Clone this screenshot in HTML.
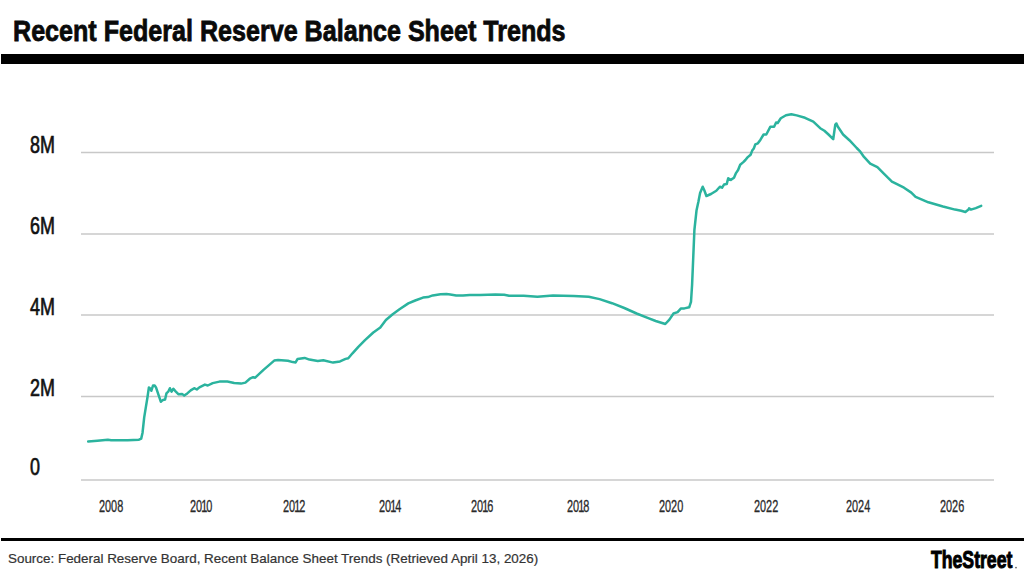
<!DOCTYPE html>
<html><head><meta charset="utf-8">
<style>
html,body{margin:0;padding:0;background:#fff;}
body{width:1024px;height:576px;position:relative;overflow:hidden;font-family:"Liberation Sans",sans-serif;}
.t{position:absolute;white-space:nowrap;transform-origin:0 0;line-height:1;}
#title{left:13px;top:14.5px;font-size:30.4px;font-weight:bold;color:#0a0a0a;transform:scaleX(0.826);-webkit-text-stroke:0.8px #0a0a0a;}
.yl{font-size:24.4px;color:#111;transform:scaleX(0.735);left:29.5px;-webkit-text-stroke:0.7px #111;}
.xl{font-size:15.8px;color:#2a2a2a;transform:scaleX(0.69);top:499.2px;-webkit-text-stroke:0.3px #2a2a2a;}
#src{left:8px;top:552px;font-size:13px;color:#333;transform:scaleX(1.032);-webkit-text-stroke:0.2px #333;}
#logo{left:930.5px;top:547.6px;font-size:24px;font-weight:bold;color:#000;transform:scaleX(0.735);-webkit-text-stroke:1.0px #000;}
svg{position:absolute;left:0;top:0;}
.n1{margin-left:-1.2px;margin-right:-1.8px;}
</style></head><body>
<svg width="1024" height="576" viewBox="0 0 1024 576">
<rect x="1" y="54" width="1023" height="10" fill="#000"/>
<rect x="1" y="538" width="1023" height="3" fill="#000"/>
<g stroke="#c8c8c8" stroke-width="1.5">
<line x1="81" y1="152.5" x2="994" y2="152.5"/>
<line x1="81" y1="233.9" x2="994" y2="233.9"/>
<line x1="81" y1="314.9" x2="994" y2="314.9"/>
<line x1="81" y1="396.4" x2="994" y2="396.4"/>
<line x1="81" y1="480" x2="994" y2="480"/>
</g>
<path d="M88.2 441.6 L97.4 440.8 L107.8 439.7 L111.2 440.3 L127.7 440.3 L139.0 439.7 L141.2 438.6 L142.5 433.0 L144.2 417.4 L145.9 406.9 L147.4 397.8 L148.9 387.4 L150.4 388.7 L151.3 390.8 L153.0 385.6 L154.7 385.6 L156.0 387.4 L158.6 395.2 L160.8 401.7 L163.0 399.9 L165.1 399.5 L166.4 393.4 L168.2 391.7 L169.9 388.2 L171.6 391.7 L173.4 388.7 L175.1 390.8 L178.6 394.3 L182.1 393.9 L184.2 395.6 L187.3 393.4 L190.7 390.4 L194.2 388.2 L196.8 389.5 L199.4 387.4 L204.9 384.6 L207.8 385.5 L212.7 383.1 L219.5 381.6 L227.3 381.6 L234.2 382.9 L241.0 383.6 L245.4 382.6 L249.8 378.7 L253.2 377.2 L255.2 377.7 L263.5 369.9 L274.2 360.6 L278.1 360.1 L287.9 360.8 L292.8 362.1 L295.6 362.4 L297.6 358.9 L304.6 357.9 L309.4 359.6 L317.8 361.0 L323.3 360.3 L333.1 362.6 L340.0 361.4 L345.6 358.9 L348.3 358.2 L352.5 353.3 L358.1 347.1 L365.0 340.1 L373.3 332.5 L380.3 327.6 L385.9 320.0 L392.7 314.2 L399.5 309.3 L408.3 303.4 L415.2 300.5 L423.0 297.6 L427.9 297.1 L432.7 295.4 L440.5 294.2 L446.4 294.0 L450.3 294.5 L456.2 295.4 L463.0 295.4 L469.8 294.9 L480.0 294.9 L495.4 294.6 L504.2 294.8 L509.1 295.8 L523.7 295.8 L537.4 296.8 L553.0 295.4 L573.7 296.1 L588.7 296.8 L599.6 299.1 L612.0 303.2 L624.3 308.0 L636.6 313.5 L648.9 318.3 L655.7 321.0 L665.3 324.0 L669.4 319.6 L673.5 313.5 L677.6 312.1 L681.0 308.4 L684.4 308.4 L689.2 307.3 L691.0 301.9 L692.1 284.6 L694.4 230.0 L696.5 210.6 L698.5 201.3 L700.1 192.9 L702.7 186.7 L704.3 190.3 L706.4 196.0 L711.0 194.0 L716.3 190.8 L719.9 186.7 L722.0 187.7 L724.0 184.6 L726.7 184.1 L728.2 178.3 L730.8 179.9 L734.0 177.8 L736.0 173.1 L738.1 170.0 L740.2 164.7 L743.3 162.1 L745.4 160.0 L747.5 157.4 L750.6 154.8 L752.2 150.6 L753.8 148.5 L755.3 144.4 L757.9 143.3 L760.5 139.7 L763.6 134.5 L766.3 134.5 L770.4 126.7 L774.1 126.7 L776.1 122.5 L777.7 123.0 L780.8 118.3 L786.0 115.2 L791.3 114.2 L796.7 115.4 L805.0 117.8 L813.3 121.7 L820.2 128.2 L824.4 130.8 L828.5 134.5 L833.2 139.2 L835.3 124.6 L836.4 123.5 L837.9 126.7 L843.1 134.5 L849.4 140.2 L856.7 148.0 L859.8 151.1 L864.0 156.9 L870.2 163.6 L877.4 167.2 L884.6 174.3 L891.9 181.6 L895.5 183.4 L904.0 187.7 L911.3 192.6 L915.6 196.8 L928.4 202.3 L943.0 206.5 L955.1 209.6 L961.2 210.8 L965.4 212.0 L968.5 209.6 L969.1 208.4 L970.9 209.6 L975.8 208.1 L981.2 205.9" fill="none" stroke="#2bb39e" stroke-width="2.5" stroke-linejoin="round" stroke-linecap="round"/>
<circle cx="1016" cy="567.6" r="0.9" fill="#666"/>
</svg>
<div class="t" id="title">Recent Federal Reserve Balance Sheet Trends</div>
<div class="t yl" style="top:132.6px">8M</div>
<div class="t yl" style="top:213.6px">6M</div>
<div class="t yl" style="top:294.6px">4M</div>
<div class="t yl" style="top:375.6px">2M</div>
<div class="t yl" style="top:454.5px">0</div>
<div class="t xl" style="left:99.3px">2008</div>
<div class="t xl" style="left:189.7px">20<span class="n1">1</span>0</div>
<div class="t xl" style="left:282.7px">20<span class="n1">1</span>2</div>
<div class="t xl" style="left:378.7px">20<span class="n1">1</span>4</div>
<div class="t xl" style="left:470.5px">20<span class="n1">1</span>6</div>
<div class="t xl" style="left:566.5px">20<span class="n1">1</span>8</div>
<div class="t xl" style="left:658.5px">2020</div>
<div class="t xl" style="left:753.7px">2022</div>
<div class="t xl" style="left:845.9px">2024</div>
<div class="t xl" style="left:940.3px">2026</div>
<div class="t" id="src">Source: Federal Reserve Board, Recent Balance Sheet Trends (Retrieved April 13, 2026)</div>
<div class="t" id="logo">TheStreet</div>
</body></html>
